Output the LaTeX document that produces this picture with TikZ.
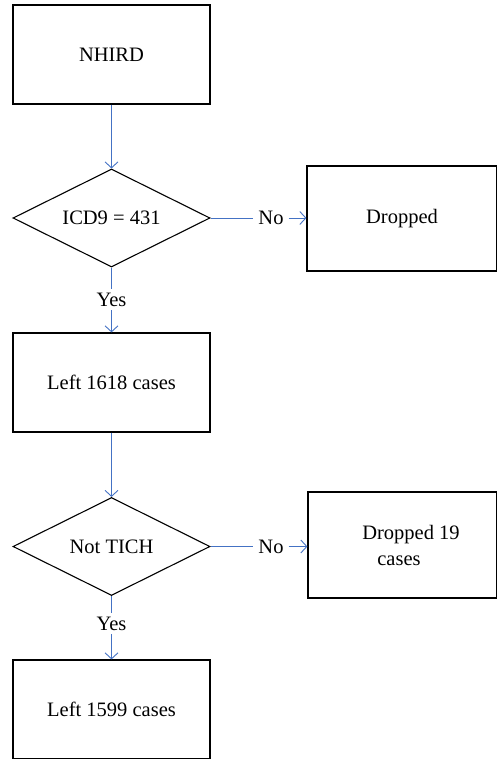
\documentclass[tikz,border=0pt]{standalone}
\usepackage{fontspec}
\setmainfont{Liberation Serif}
\usetikzlibrary{shapes.geometric,arrows.meta}
\definecolor{lineblue}{RGB}{68,114,196}
\begin{document}
\begin{tikzpicture}[x=1pt,y=-1pt,
  font=\fontsize{20.5}{26}\selectfont,
  boxnode/.style={draw=black,line width=1.2pt,rectangle,inner sep=0pt,
    minimum width=197pt,minimum height=99pt,anchor=center},
  dropbox/.style={draw=black,line width=1.2pt,rectangle,inner sep=0pt,
    minimum width=190pt,minimum height=105pt},
  decision/.style={draw=black,line width=1.1pt,diamond,aspect=2,inner sep=0pt,
    minimum width=197pt,minimum height=98pt},
  lbl/.style={inner sep=0pt,minimum height=21pt,minimum width=35pt},
  conn/.style={draw=lineblue,line width=0.9pt},
  arr/.style={conn,-{Straight Barb[length=6pt,width=13pt,line width=0.9pt]}}
]
\useasboundingbox (0,0) rectangle (496,759);
\node[boxnode] (nhird) at (111.5,54.5) {NHIRD};
\node[decision] (d1) at (111.5,218) {ICD9 = 431};
\node[dropbox] (drop1) at (402,218.5) {Dropped};
\node[boxnode] (l1618) at (111.5,382.5) {Left 1618 cases};
\node[decision] (d2) at (111.5,546.5) {Not TICH};
\node[dropbox, minimum width=189pt, minimum height=106pt] (drop2) at (402.5,545) {};
\node[align=center,inner sep=0pt] (drop2txt) at (411,545) {Dropped 19\\cases\hspace*{24pt}};
\node[boxnode] (l1599) at (111.5,709.5) {Left 1599 cases};
% labels
\node[lbl] (yes1) at (111.5,299.5) {Yes};
\node[lbl] (yes2) at (111.5,623.5) {Yes};
\node[lbl] (no1) at (271,218) {No};
\node[lbl] (no2) at (271,546.5) {No};
% connectors
\draw[arr] (nhird.south) -- (d1.north);
\draw[conn] (d1.south) -- (yes1.north);
\draw[arr] (yes1.south) -- (l1618.north);
\draw[conn] (d1.east) -- (no1.west);
\draw[arr] (no1.east) -- (drop1.west |- no1.east);
\draw[arr] (l1618.south) -- (d2.north);
\draw[conn] (d2.south) -- (yes2.north);
\draw[arr] (yes2.south) -- (l1599.north);
\draw[conn] (d2.east) -- (no2.west);
\draw[arr] (no2.east) -- (drop2.west |- no2.east);
\end{tikzpicture}
\end{document}
